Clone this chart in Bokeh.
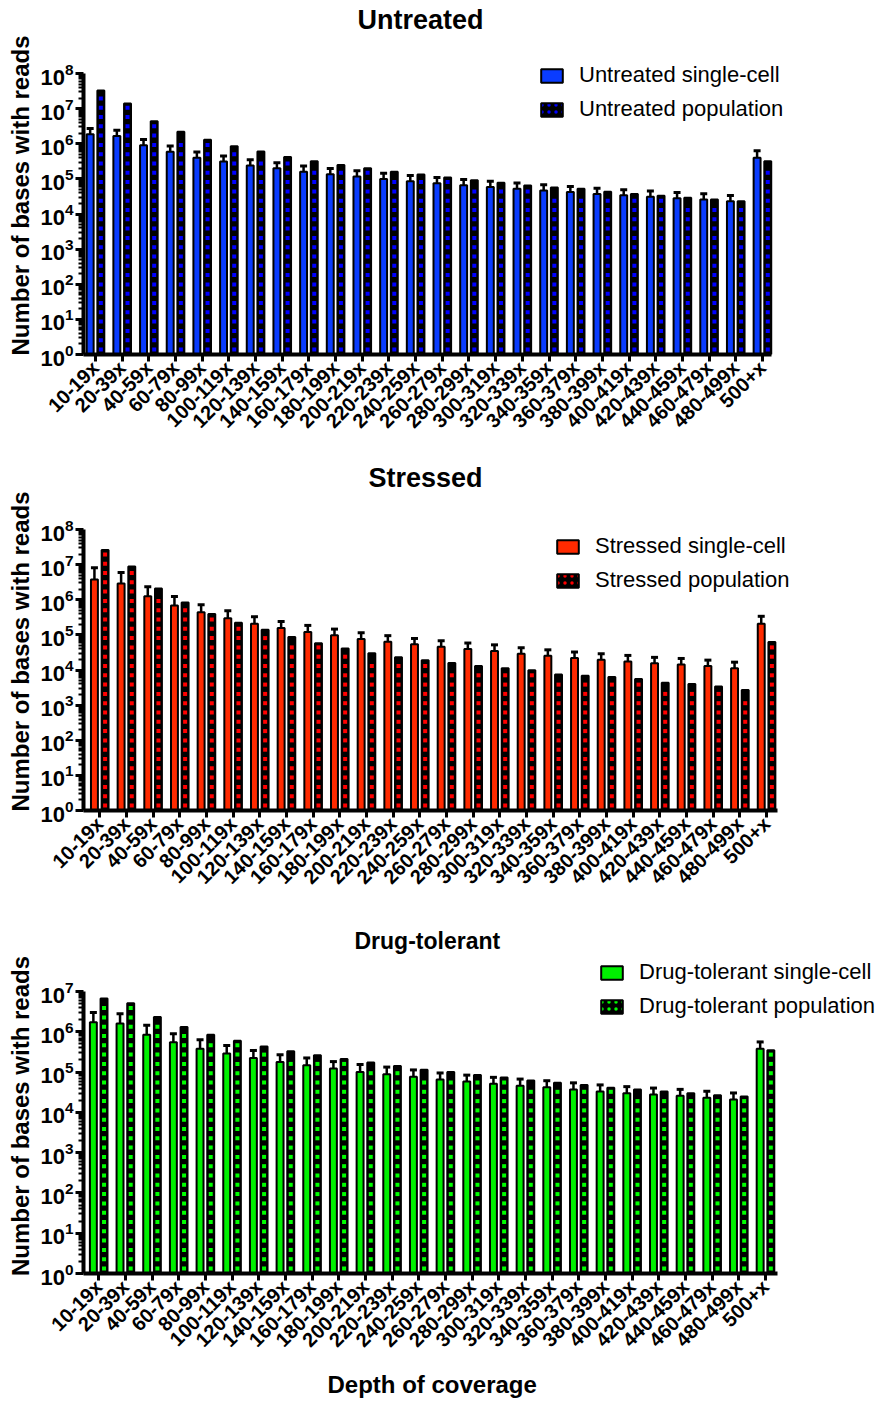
import math

from bokeh.embed import file_html
from bokeh.layouts import column
from bokeh.models import (ColumnDataSource, FixedTicker, Legend, LegendItem,
                          Range1d, TeeHead, Title, Whisker)
from bokeh.plotting import figure
from bokeh.resources import INLINE
from bokeh.transform import dodge

# ---------------------------------------------------------------- data
depth_bins = ["10-19x", "20-39x", "40-59x", "60-79x", "80-99x", "100-119x",
              "120-139x", "140-159x", "160-179x", "180-199x", "200-219x",
              "220-239x", "240-259x", "260-279x", "280-299x", "300-319x",
              "320-339x", "340-359x", "360-379x", "380-399x", "400-419x",
              "420-439x", "440-459x", "460-479x", "480-499x", "500+x"]

untreated_single = [1.86e6, 1.67e6, 9.1e5, 5.9e5, 4.0e5, 3.1e5, 2.4e5, 2.0e5,
                    1.6e5, 1.36e5, 1.17e5, 1.0e5, 8.6e4, 7.5e4, 6.6e4, 5.9e4,
                    5.2e4, 4.7e4, 4.2e4, 3.7e4, 3.4e4, 3.1e4, 2.8e4, 2.6e4,
                    2.3e4, 4.0e5]
untreated_single_sd = [8.5e5, 7.5e5, 4.2e5, 2.7e5, 1.8e5, 1.4e5, 1.1e5, 9.0e4,
                       7.2e4, 6.1e4, 5.3e4, 4.5e4, 3.9e4, 3.4e4, 3.0e4, 2.7e4,
                       2.4e4, 2.1e4, 1.9e4, 1.7e4, 1.5e4, 1.4e4, 1.3e4, 1.2e4,
                       1.05e4, 2.3e5]
untreated_population = [3.3e7, 1.4e7, 4.4e6, 2.2e6, 1.29e6, 8.5e5, 6.0e5, 4.2e5,
                        3.2e5, 2.5e5, 2.0e5, 1.6e5, 1.33e5, 1.09e5, 9.2e4, 7.7e4,
                        6.5e4, 5.7e4, 5.2e4, 4.3e4, 3.7e4, 3.3e4, 2.9e4, 2.6e4,
                        2.3e4, 3.2e5]

stressed_single = [3.8e6, 2.9e6, 1.25e6, 6.9e5, 4.4e5, 2.95e5, 2.09e5, 1.56e5,
                   1.2e5, 9.7e4, 7.6e4, 6.4e4, 5.4e4, 4.6e4, 3.96e4, 3.5e4,
                   2.9e4, 2.55e4, 2.2e4, 1.96e4, 1.76e4, 1.55e4, 1.44e4, 1.29e4,
                   1.13e4, 2.08e5]
stressed_single_sd = [4.4e6, 3.1e6, 1.1e6, 5.4e5, 2.8e5, 1.95e5, 1.2e5, 8.4e4,
                      6.6e4, 4.9e4, 3.9e4, 3.1e4, 2.5e4, 2.2e4, 1.9e4, 1.7e4,
                      1.4e4, 1.2e4, 1.05e4, 9.4e3, 8.4e3, 7.4e3, 6.9e3, 6.2e3,
                      5.4e3, 1.3e5]
stressed_population = [2.6e7, 8.9e6, 2.1e6, 8.3e5, 3.9e5, 2.2e5, 1.4e5, 8.7e4,
                       5.8e4, 4.1e4, 3.0e4, 2.3e4, 1.9e4, 1.58e4, 1.29e4, 1.13e4,
                       9.8e3, 7.5e3, 6.9e3, 6.3e3, 5.5e3, 4.3e3, 4.0e3, 3.4e3,
                       2.7e3, 6.3e4]

tolerant_single = [1.73e6, 1.6e6, 8.5e5, 5.5e5, 3.8e5, 2.9e5, 2.24e5, 1.79e5,
                   1.48e5, 1.23e5, 1.0e5, 8.8e4, 7.7e4, 6.5e4, 5.8e4, 5.1e4,
                   4.6e4, 4.2e4, 3.7e4, 3.3e4, 3.0e4, 2.76e4, 2.57e4, 2.29e4,
                   2.08e4, 3.8e5]
tolerant_single_sd = [1.3e6, 1.2e6, 6.0e5, 3.5e5, 2.5e5, 1.65e5, 1.2e5, 9.0e4,
                      7.6e4, 5.9e4, 5.4e4, 4.5e4, 3.6e4, 3.0e4, 2.6e4, 2.3e4,
                      2.1e4, 1.9e4, 1.7e4, 1.5e4, 1.35e4, 1.25e4, 1.15e4, 1.05e4,
                      9.5e3, 1.8e5]
tolerant_population = [6.7e6, 5.1e6, 2.34e6, 1.32e6, 8.5e5, 6.0e5, 4.3e5, 3.3e5,
                       2.6e5, 2.1e5, 1.73e5, 1.42e5, 1.15e5, 1.0e5, 8.5e4, 7.3e4,
                       6.2e4, 5.4e4, 4.8e4, 4.1e4, 3.7e4, 3.3e4, 2.97e4, 2.65e4,
                       2.46e4, 3.5e5]

FONT = "Liberation Sans"
PIP_PITCH = 9.3      # px between the little squares inside population bars
DODGE = 0.2
BAR_W = 0.26
PAGE_W = 890


def make_panel(title, title_size, title_offset, title_standoff, label, single,
               single_sd, population, color, pip_color, decades, frame_left,
               axis_px, x_start, x_axis_end, top_border, frame_height,
               axis_span, bottom_border, legend_xy, x_title=None):
    n = len(depth_bins)
    y_max = 10.0 ** decades
    # the frame reaches past the axes so the legend has room; the axes
    # themselves stop at their bounds
    px_per_unit = axis_px / (x_axis_end - x_start)
    frame_width = PAGE_W - frame_left
    x_end = x_start + frame_width / px_per_unit
    px_per_decade = axis_span / decades
    y_end = 10 ** (frame_height / px_per_decade)

    p = figure(x_range=Range1d(x_start, x_end), y_range=Range1d(1, y_end),
               y_axis_type="log", frame_width=frame_width,
               frame_height=frame_height, min_border_left=frame_left,
               min_border_right=0, min_border_top=top_border,
               min_border_bottom=bottom_border,
               output_backend="svg", toolbar_location=None)
    p.title = Title(text=title, align="left", offset=title_offset,
                    text_font=FONT, text_font_size=title_size,
                    text_font_style="bold", text_color="black",
                    standoff=title_standoff)
    p.outline_line_color = None
    p.xgrid.visible = False
    p.ygrid.visible = False
    p.background_fill_color = None
    p.border_fill_color = None

    src = ColumnDataSource(dict(
        x=list(range(n)), single=single,
        upper=[v + e for v, e in zip(single, single_sd)],
        population=population))

    single_r = p.vbar(x=dodge("x", -DODGE), top="single", bottom=1,
                      width=BAR_W, source=src, fill_color=color,
                      line_color="black", line_width=2)
    p.vbar(x=dodge("x", DODGE), top="population", bottom=1, width=BAR_W,
           source=src, fill_color="black", line_color="black", line_width=2)

    # column of small coloured squares inside each population bar
    step = PIP_PITCH / px_per_decade
    start = 5.0 / px_per_decade
    margin = 4.0 / px_per_decade
    pip_x, pip_y = [], []
    for i, v in enumerate(population):
        k = 0
        while start + k * step <= math.log10(v) - margin:
            pip_x.append(i)
            pip_y.append(10 ** (start + k * step))
            k += 1
    pips = ColumnDataSource(dict(x=pip_x, y=pip_y))
    p.scatter(x=dodge("x", DODGE), y="y", source=pips, marker="square",
              size=4, fill_color=pip_color, line_color=None)

    p.add_layout(Whisker(source=src, base=dodge("x", -DODGE), lower="single",
                         upper="upper", dimension="height",
                         line_color="black", line_width=2.5, lower_head=None,
                         upper_head=TeeHead(size=7, line_width=3,
                                            line_color="black")))

    # hidden twin of the population bars, used only as the checkered legend key
    pop_key = p.vbar(x=dodge("x", DODGE), top="population", bottom=1,
                     width=BAR_W, source=src, fill_color="black",
                     line_color="black", line_width=2, hatch_pattern="dot",
                     hatch_color=pip_color, hatch_scale=7, hatch_weight=2,
                     visible=False)
    legend = Legend(items=[LegendItem(label=f"{label} single-cell",
                                      renderers=[single_r]),
                           LegendItem(label=f"{label} population",
                                      renderers=[pop_key])],
                    location=legend_xy, orientation="vertical",
                    border_line_color=None, background_fill_alpha=0,
                    inactive_fill_alpha=0,
                    padding=0, margin=0, spacing=8, glyph_width=27,
                    glyph_height=17, label_standoff=14,
                    label_text_font=FONT, label_text_font_size="22px",
                    label_text_color="black")
    p.add_layout(legend)

    # y axis
    yax = p.yaxis[0]
    yax.bounds = (1, y_max)
    yax.ticker = FixedTicker(
        ticks=[10 ** k for k in range(decades + 1)],
        minor_ticks=[m * 10 ** k for k in range(decades) for m in range(2, 10)])
    yax.axis_label = "Number of bases with reads"
    yax.axis_label_text_font = FONT
    yax.axis_label_text_font_size = "24px"
    yax.axis_label_text_font_style = "bold"
    yax.axis_label_text_color = "black"
    yax.axis_label_standoff = 3
    yax.major_label_text_font = FONT
    yax.major_label_text_font_size = "22px"
    yax.major_label_text_font_style = "bold"
    yax.major_label_text_color = "black"
    yax.major_label_standoff = 2
    yax.axis_line_width = 4
    yax.major_tick_line_width = 3
    yax.major_tick_in = 0
    yax.major_tick_out = 8
    yax.minor_tick_line_width = 2
    yax.minor_tick_in = 0
    yax.minor_tick_out = 5

    # x axis
    xax = p.xaxis[0]
    xax.bounds = (x_start, x_axis_end)
    xax.ticker = FixedTicker(ticks=list(range(n)))
    xax.major_label_overrides = {i: lab for i, lab in enumerate(depth_bins)}
    xax.major_label_orientation = math.pi / 4
    xax.major_label_text_font = FONT
    xax.major_label_text_font_size = "20px"
    xax.major_label_text_font_style = "bold"
    xax.major_label_text_color = "black"
    xax.major_label_standoff = 3
    xax.axis_line_width = 4
    xax.major_tick_line_width = 3
    xax.major_tick_in = 0
    xax.major_tick_out = 7
    xax.minor_tick_line_color = None
    if x_title:
        text, offset, standoff = x_title
        p.add_layout(Title(text=text, align="left", offset=offset,
                           text_font=FONT, text_font_size="24px",
                           text_font_style="bold", text_color="black",
                           vertical_align="bottom", standoff=standoff),
                     "below")
    return p


p1 = make_panel("Untreated", "27px", 274, 4, "Untreated", untreated_single,
                untreated_single_sd, untreated_population, "#0A3CFF",
                "#0000FF", 8, 77, 688, -0.45, 25.34,
                36, 318, 281, 106, (459, 232))
p2 = make_panel("Stressed", "27px", 285, 0, "Stressed", stressed_single,
                stressed_single_sd, stressed_population, "#FF2A00",
                "#FF0000", 8, 78, 694, -0.61, 25.41,
                32, 318, 281, 110, (475, 217))
p3 = make_panel("Drug-tolerant", "23px", 271, 10, "Drug-tolerant",
                tolerant_single, tolerant_single_sd, tolerant_population,
                "#00F000", "#00FF00", 7, 83, 694, -0.57, 25.45,
                37, 315, 282, 135, (515, 254),
                x_title=("Depth of coverage", 244, 14))

layout = column(p1, p2, p3, spacing=0)
open("out.html", "w").write(file_html(layout, INLINE))
